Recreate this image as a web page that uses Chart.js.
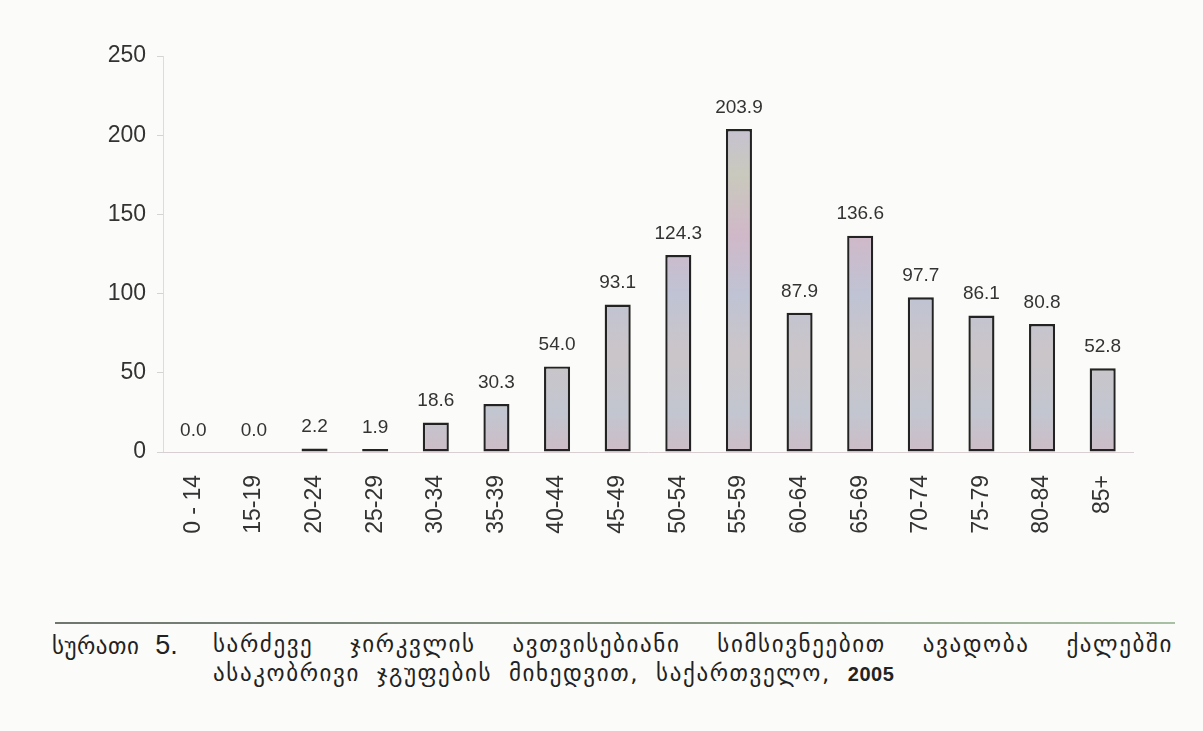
<!DOCTYPE html>
<html>
<head>
<meta charset="utf-8">
<script src="https://cdn.jsdelivr.net/npm/chart.js@4/dist/chart.umd.min.js"></script>
<style>
  html, body { margin:0; padding:0; background:#fbfbf9; }
  body { width:1203px; height:731px; position:relative; overflow:hidden; font-family:"Liberation Sans", Arial, sans-serif; }
  #wrap { position:absolute; left:0; top:0; width:1203px; height:560px; }
  #rule { position:absolute; left:55px; top:622px; width:1120px; height:2px; background:linear-gradient(to right,#6f7670,#8a9a86 60%,#a9c0a4); }
  .cap { position:absolute; font-family:"DejaVu Sans", sans-serif; color:#222; font-size:23px; white-space:nowrap; letter-spacing:1.6px; word-spacing:8px; }
  #lbl { left:52px; top:630px; font-size:23px; letter-spacing:0.5px; word-spacing:0; }
  #lbl b { font-family:"Liberation Sans", Arial, sans-serif; font-weight:normal; font-size:27px; margin-left:16px; letter-spacing:0; }
  #l1 { left:213px; top:631px; width:960px; text-align:justify; text-align-last:justify; white-space:normal; }
  #l2 { left:213px; top:660px; }
  #l2 b { font-family:"Liberation Sans", Arial, sans-serif; font-weight:bold; font-size:20px; letter-spacing:0.5px; }
</style>
</head>
<body>
<div id="wrap"><canvas id="c" width="1203" height="560"></canvas></div>
<div id="rule"></div>
<div class="cap" id="lbl">სურათი<b>5.</b></div>
<div class="cap" id="l1">სარძევე ჯირკვლის ავთვისებიანი სიმსივნეებით ავადობა ქალებში</div>
<div class="cap" id="l2">ასაკობრივი ჯგუფების მიხედვით, საქართველო, <b>2005</b></div>
<script>
const categories = ["0 - 14","15-19","20-24","25-29","30-34","35-39","40-44","45-49","50-54","55-59","60-64","65-69","70-74","75-79","80-84","85+"];
const values = [0.0, 0.0, 2.2, 1.9, 18.6, 30.3, 54.0, 93.1, 124.3, 203.9, 87.9, 136.6, 97.7, 86.1, 80.8, 52.8];
const yTicks = [0, 50, 100, 150, 200, 250];

const valueLabels = {
  id: 'valueLabels',
  afterDatasetsDraw(chart) {
    const ctx = chart.ctx;
    const meta = chart.getDatasetMeta(0);
    ctx.save();
    ctx.font = '19px "Liberation Sans", Arial, sans-serif';
    ctx.fillStyle = '#333';
    ctx.textAlign = 'center';
    ctx.textBaseline = 'bottom';
    meta.data.forEach((bar, i) => {
      const v = chart.data.datasets[0].data[i];
      ctx.fillText(v.toFixed(1), bar.x, bar.y - 12);
    });
    ctx.restore();
  }
};

function barFill(context) {
  const chart = context.chart;
  const area = chart.chartArea;
  if (!area) return '#c9bfc8';
  const g = chart.ctx.createLinearGradient(0, area.top, 0, area.bottom);
  g.addColorStop(0.00, '#d2b9c6');
  g.addColorStop(0.15, '#c6bfd6');
  g.addColorStop(0.30, '#c9c9bd');
  g.addColorStop(0.45, '#d0b8c8');
  g.addColorStop(0.60, '#bfc3d4');
  g.addColorStop(0.75, '#cbc5c8');
  g.addColorStop(0.90, '#c2c6d0');
  g.addColorStop(1.00, '#cdbcc6');
  return g;
}

new Chart(document.getElementById('c'), {
  type: 'bar',
  data: {
    labels: categories,
    datasets: [{
      data: values,
      backgroundColor: barFill,
      borderColor: '#232323',
      borderWidth: 2.4,
      borderSkipped: false,
      categoryPercentage: 1,
      barPercentage: 0.43
    }]
  },
  options: {
    responsive: false,
    animation: false,
    devicePixelRatio: 1,
    layout: { padding: { top: 56, right: 70, left: 0, bottom: 0 } },
    plugins: { legend: { display: false }, tooltip: { enabled: false } },
    scales: {
      y: {
        min: 0, max: 250,
        afterBuildTicks: (s) => { s.ticks = yTicks.map(v => ({ value: v })); },
        afterFit: (s) => { s.width = 163; },
        grid: { display: true, drawOnChartArea: false, drawTicks: true, tickLength: 6, color: '#d4d4d4' },
        border: { display: true, color: '#dcdcdc', width: 1 },
        ticks: { color: '#333', font: { size: 23, family: '"Liberation Sans", Arial, sans-serif' }, padding: 11 }
      },
      x: {
        afterFit: (s) => { s.height = 560 - 452; },
        grid: { display: false },
        border: { display: true, color: '#d9cfd2', width: 1 },
        ticks: { color: '#333', font: { size: 23, family: '"Liberation Sans", Arial, sans-serif' }, minRotation: 90, maxRotation: 90, padding: 15, autoSkip: false }
      }
    }
  },
  plugins: [valueLabels]
});
</script>
</body>
</html>
